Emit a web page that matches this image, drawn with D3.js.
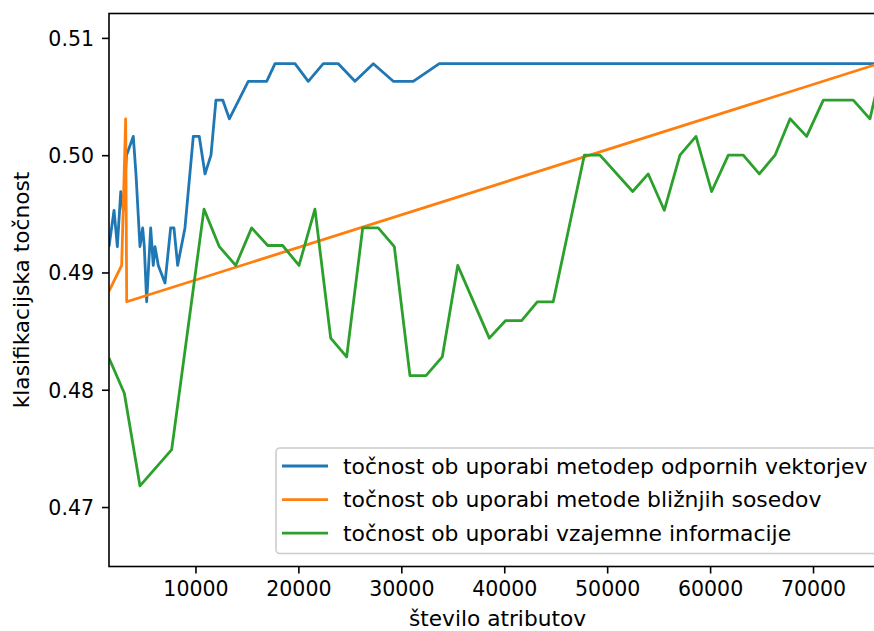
<!DOCTYPE html>
<html>
<head>
<meta charset="utf-8">
<script src="https://cdn.jsdelivr.net/npm/d3@7"></script>
<style>
	body { margin: 0; background: #ffffff; }
	svg { display: block; font-family: "DejaVu Sans", sans-serif; }
</style>
</head>
<body>
<div id="chart"></div>
<script>
// tocnost SVM (blue)
var svmX = [1600, 2090, 2410, 2740, 2990, 3300, 3960, 4220, 4610, 4870,
	5030, 5260, 5650, 5900, 6070, 6390, 7040, 7590, 7910, 8270,
	8980, 9790, 10370, 10930, 11510, 11990, 12650, 13290, 15130, 16920,
	17730, 19670, 20960, 22420, 23880, 25500, 27280, 29220, 31160, 33690, 77090];
var svmY = [0.4922, 0.4953, 0.4922, 0.4969, 0.4953, 0.5000, 0.5016, 0.4984, 0.4922, 0.4938,
	0.4922, 0.4875, 0.4938, 0.4906, 0.4922, 0.4906, 0.4891, 0.4938, 0.4938, 0.4906,
	0.4938, 0.5016, 0.5016, 0.4984, 0.5000, 0.5047, 0.5047, 0.5031, 0.5063, 0.5063,
	0.5078, 0.5078, 0.5063, 0.5078, 0.5078, 0.5063, 0.5078, 0.5063, 0.5063, 0.5078, 0.5078];

// tocnost kNN (orange)
var knnX = [1600, 2830, 3220, 3320, 77090];
var knnY = [0.4884, 0.4906, 0.5031, 0.4875, 0.5080];

// vzajemna informacija (green)
var miX = [1600, 3090, 4610, 7690, 10830, 12320, 13910, 15460, 17020, 18470,
	20060, 21610, 23140, 24690, 26250, 27760, 29320, 30840, 32400, 33980,
	35480, 38550, 40140, 41690, 43210, 44760, 47780, 49300, 52480, 53990,
	55550, 57070, 58630, 60150, 61770, 63220, 64780, 66310, 67770, 69380,
	71000, 73910, 75530, 77090];
var miY = [0.4827, 0.4797, 0.4718, 0.4749, 0.4954, 0.4922, 0.4906, 0.4938, 0.4923, 0.4923,
	0.4906, 0.4954, 0.4844, 0.4828, 0.4938, 0.4938, 0.4922, 0.4812, 0.4812, 0.4828,
	0.4906, 0.4844, 0.4859, 0.4859, 0.4875, 0.4875, 0.5000, 0.5000, 0.4969, 0.4984,
	0.4953, 0.5000, 0.5016, 0.4969, 0.5000, 0.5000, 0.4984, 0.5000, 0.5031, 0.5016,
	0.5047, 0.5047, 0.5031, 0.5090];

var xTicks = [10000, 20000, 30000, 40000, 50000, 60000, 70000];
var yTicks = [0.47, 0.48, 0.49, 0.50, 0.51];

var legendLabels = [
	"točnost ob uporabi metodep odpornih vektorjev",
	"točnost ob uporabi metode bližnjih sosedov",
	"točnost ob uporabi vzajemne informacije"
];
var colors = ["#1f77b4", "#ff7f0e", "#2ca02c"];

var W = 874, H = 631;
var pL = 109, pR = 886, pT = 13.5, pB = 566.5;
var tickFs = 20.5, labelFs = 21.7, legendFs = 21.9;

var svg = d3.select("#chart").append("svg")
	.attr("width", W)
	.attr("height", H);

var x = d3.scaleLinear().domain([1600, 77090]).range([pL, pR]);
var y = d3.scaleLinear().domain([0.46493, 0.51208]).range([pB, pT]);

svg.append("defs").append("clipPath")
	.attr("id", "plotclip")
	.append("rect")
	.attr("x", pL).attr("y", pT)
	.attr("width", pR - pL).attr("height", pB - pT);

// lines
var series = [[svmX, svmY], [knnX, knnY], [miX, miY]];
var line = d3.line()
	.x(function(d){ return x(d[0]); })
	.y(function(d){ return y(d[1]); });

var plot = svg.append("g").attr("clip-path", "url(#plotclip)");
for (var i = 0; i < series.length; i++){
	var pts = d3.zip(series[i][0], series[i][1]);
	plot.append("path")
		.datum(pts)
		.attr("fill", "none")
		.attr("stroke", colors[i])
		.attr("stroke-width", 2.8)
		.attr("stroke-linejoin", "round")
		.attr("stroke-linecap", "butt")
		.attr("d", line);
}

// axes
var xAxis = d3.axisBottom(x).tickValues(xTicks).tickSize(7).tickPadding(8)
	.tickFormat(d3.format("d"));
var yAxis = d3.axisLeft(y).tickValues(yTicks).tickSize(7).tickPadding(8)
	.tickFormat(d3.format(".2f"));

var gx = svg.append("g")
	.attr("transform", "translate(0," + pB + ")")
	.call(xAxis);
var gy = svg.append("g")
	.attr("transform", "translate(" + pL + ",0)")
	.call(yAxis);

[gx, gy].forEach(function(g){
	g.select(".domain").remove();
	g.selectAll(".tick line").attr("stroke", "#000").attr("stroke-width", 1.6);
	g.selectAll(".tick text")
		.attr("fill", "#000")
		.style("font-size", tickFs + "px")
		.style("font-family", "DejaVu Sans");
});
gy.selectAll(".tick text").attr("dy", "0.36em");

// spines
svg.append("rect")
	.attr("x", pL).attr("y", pT)
	.attr("width", pR - pL).attr("height", pB - pT)
	.attr("fill", "none")
	.attr("stroke", "#000")
	.attr("stroke-width", 1.6);

// axis labels
svg.append("text")
	.attr("x", (pL + pR) / 2)
	.attr("y", 626)
	.attr("text-anchor", "middle")
	.style("font-size", labelFs + "px")
	.text("število atributov");

svg.append("text")
	.attr("transform", "translate(29," + ((pT + pB) / 2) + ") rotate(-90)")
	.attr("text-anchor", "middle")
	.style("font-size", labelFs + "px")
	.text("klasifikacijska točnost");

// legend
var lg = svg.append("g");
lg.append("rect")
	.attr("x", 276).attr("y", 448)
	.attr("width", 601).attr("height", 105.5)
	.attr("rx", 4).attr("ry", 4)
	.attr("fill", "#ffffff").attr("fill-opacity", 0.8)
	.attr("stroke", "#cccccc").attr("stroke-width", 1.6);

for (var i = 0; i < legendLabels.length; i++){
	var ly = 466 + i * 33.6;
	lg.append("line")
		.attr("x1", 282).attr("x2", 328)
		.attr("y1", ly).attr("y2", ly)
		.attr("stroke", colors[i])
		.attr("stroke-width", 2.8);
	lg.append("text")
		.attr("x", 343)
		.attr("y", ly)
		.attr("dy", "0.36em")
		.style("font-size", legendFs + "px")
		.text(legendLabels[i]);
}
</script>
</body>
</html>
